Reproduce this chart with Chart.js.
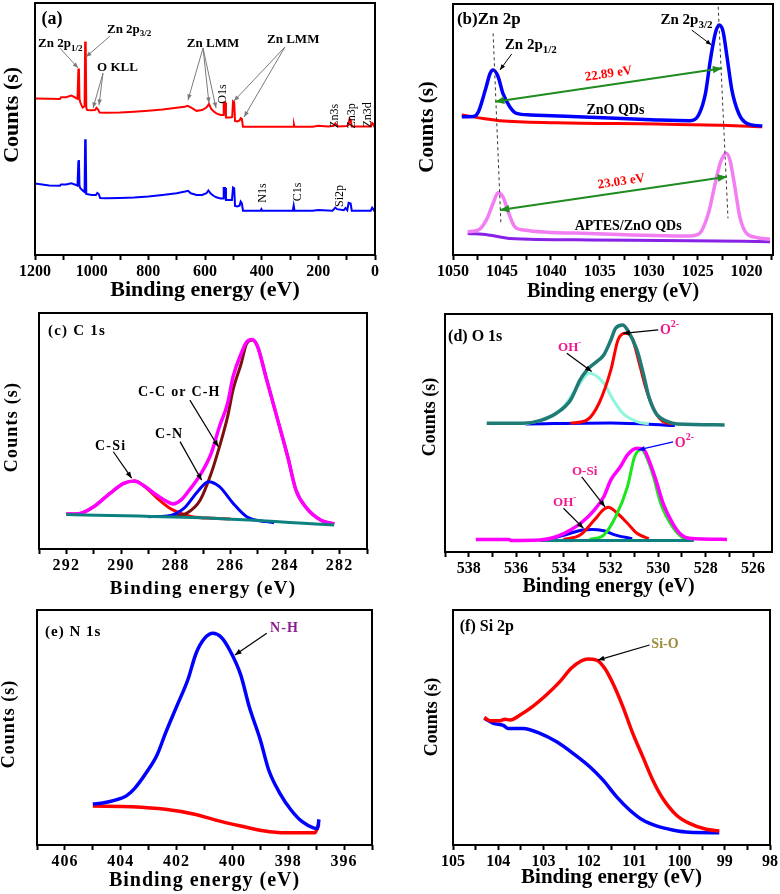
<!DOCTYPE html>
<html>
<head>
<meta charset="utf-8">
<title>XPS</title>
<script src="https://cdn.jsdelivr.net/npm/chart.js@4/dist/chart.umd.min.js"></script>
<style>
    html, body { margin: 0; padding: 0; background: #fff; }
    #figura { position: relative; width: 780px; height: 894px; overflow: hidden; }
    #figura canvas { position: absolute; }
</style>
</head>
<body>
<div id="figura">
    <canvas id="panel-a" width="390" height="301" style="left:0px;top:0px"></canvas>
    <canvas id="panel-b" width="390" height="302" style="left:390px;top:0px"></canvas>
    <canvas id="panel-c" width="390" height="294" style="left:0px;top:305px"></canvas>
    <canvas id="panel-d" width="390" height="292" style="left:390px;top:305px"></canvas>
    <canvas id="panel-e" width="390" height="291" style="left:0px;top:600px"></canvas>
    <canvas id="panel-f" width="390" height="288" style="left:390px;top:600px"></canvas>
</div>
<script>
// (a) Espectro completo
const surveyZnOEnergia = [1200, 1150, 1112, 1108, 1090, 1072, 1060, 1050, 1047, 1045, 1043, 1040, 1032, 1025, 1023, 1021, 1019, 1016, 1000, 988, 983, 978, 972, 950, 900, 850, 800, 750, 700, 672, 662, 650, 630, 610, 595, 586, 578, 570, 560, 545, 536, 534, 529, 526, 510, 504, 501, 497, 494, 486, 478, 474, 470, 466, 400, 300, 288, 286, 284, 220, 200, 165, 145, 140, 135, 130, 100, 94, 90, 86, 82, 40, 14, 10, 6, 3, 0];
const surveyZnOCuentas = [62.1, 62, 61.9, 62.6, 62.6, 63.3, 62.6, 62, 73.5, 74, 62, 60.5, 58.5, 59, 84.7, 83, 58.5, 57.5, 57.4, 57.5, 58.4, 57.8, 56.5, 56.4, 56.5, 56.8, 57.2, 57.7, 58.4, 58.8, 59.2, 58.6, 57.2, 57.5, 58.5, 59.9, 58, 57, 56.2, 55.6, 55.6, 60.5, 60.5, 54.6, 54.6, 54.8, 61, 60.6, 53.2, 53, 53.4, 54.3, 54, 50.9, 50.9, 50.9, 50.9, 51.8, 50.9, 50.9, 51.3, 51, 51.3, 52.2, 51.5, 51, 51.2, 51.5, 54, 53.6, 51, 51, 51, 52.4, 52, 51, 51];
const surveyAptesEnergia = [1200, 1150, 1112, 1108, 1090, 1072, 1060, 1050, 1047, 1045, 1043, 1040, 1030, 1025, 1023, 1021, 1019, 1000, 985, 980, 975, 970, 950, 900, 850, 800, 750, 700, 670, 660, 650, 630, 610, 595, 588, 580, 570, 560, 545, 536, 534, 529, 526, 505, 501, 497, 494, 486, 478, 474, 470, 466, 404, 401, 398, 290, 287, 284, 220, 200, 150, 140, 134, 110, 104, 98, 93, 86, 82, 15, 10, 6, 3, 0];
const surveyAptesCuentas = [28.4, 27.6, 27.5, 28, 28, 28.5, 28, 27.5, 37, 37.7, 27.5, 26.5, 25.4, 25, 45.9, 44, 24.2, 23.8, 23.8, 24.6, 24.2, 22.6, 22.5, 22.6, 22.8, 23.2, 23.8, 24.5, 25.2, 25.5, 24.5, 23.8, 23.8, 24.5, 25.6, 24.4, 23.5, 22.9, 22.4, 22.4, 26.6, 26.6, 21.8, 21.8, 26.8, 26.5, 19.5, 19.3, 19.6, 21.2, 20.6, 17.6, 17.6, 18.2, 17.6, 17.6, 19.6, 17.6, 17.6, 17.9, 17.6, 18.8, 18.2, 17.8, 18.6, 17.8, 20.7, 20.4, 17.6, 17.6, 18.8, 18.2, 17.6, 17.6];

// (b) Zn 2p
const zn2pZnOEnergia = [1049.1, 1047.9, 1047.4, 1046.7, 1046.2, 1045.9, 1045.4, 1044.9, 1044.2, 1043.5, 1042.1, 1036, 1029.2, 1025.8, 1024.9, 1024.2, 1023.7, 1023.2, 1022.8, 1022.4, 1022.0, 1021.5, 1020.8, 1020.0, 1018.4];
const zn2pZnOCuentas = [55.1, 55.2, 57.1, 65.7, 72.4, 73.7, 71.1, 64.4, 59.1, 56.4, 55.8, 54.9, 53.8, 53.5, 55.8, 64.4, 77.7, 88.3, 91.6, 89, 79, 65.7, 56.4, 52.5, 51.4];
const zn2pZnOFondoEnergia = [1049.1, 1046.9, 1045.2, 1039.4, 1029.2, 1022.4, 1018.4];
const zn2pZnOFondo = [55.8, 54.4, 53.5, 52.7, 52.2, 51.7, 51.1];
const zn2pAptesEnergia = [1048.5, 1047.4, 1046.6, 1045.9, 1045.4, 1044.9, 1044.3, 1043.7, 1042.8, 1036, 1025.8, 1024.8, 1023.9, 1023.2, 1022.7, 1022.1, 1021.7, 1021.2, 1020.7, 1020.0, 1019.0, 1017.6];
const zn2pAptesCuentas = [9.3, 10, 13.9, 20.6, 24.8, 23.2, 16.6, 11.3, 10, 8.6, 7.6, 8.6, 16.6, 28.6, 36.5, 40.5, 37.8, 27.2, 15.3, 8.6, 7, 6.3];
const zn2pAptesFondoEnergia = [1048.5, 1046.4, 1044.2, 1036, 1025.8, 1017.6];
const zn2pAptesFondo = [8.6, 8, 6.6, 6, 5.7, 5.3];

// (c) C 1s
const c1sEnergia = [292.0, 291.5, 291.0, 290.4, 289.9, 289.5, 289.2, 288.7, 288.3, 288.1, 287.8, 287.5, 287.1, 286.7, 286.4, 286.1, 285.9, 285.6, 285.4, 285.2, 285.0, 284.7, 284.3, 283.9, 283.6, 283.2, 282.7, 282.2];
const c1sCuentas = [14.8, 15.1, 17.9, 23.6, 27.8, 28.8, 27.1, 22.9, 20, 19.1, 20.8, 25, 31.4, 40.5, 51.8, 61.7, 73, 82.9, 87.8, 88.8, 85.7, 73, 56.1, 39.1, 25, 17.2, 12.3, 10.6];
const cSiEnergia = [292.0, 291.5, 291.0, 290.4, 289.9, 289.5, 289.2, 288.7, 288.2, 287.8, 287.4, 286.6, 286.0];
const cSiCuentas = [14.8, 15.1, 17.9, 23.6, 27.8, 28.8, 27.1, 21.8, 17.2, 15.1, 13.7, 13, 12.7];
const cnEnergia = [289.0, 288.3, 287.7, 287.2, 286.8, 286.4, 285.9, 285.4, 284.7, 284.4];
const cnCuentas = [13.7, 14, 17.2, 24.3, 28.5, 26.4, 19.4, 13.7, 11.6, 11.2];
const ccEnergia = [288.3, 287.9, 287.6, 287.1, 286.7, 286.4, 286.1, 285.9, 285.6, 285.4, 285.2, 285.0, 284.7, 284.3, 283.9, 283.6, 283.2, 282.7, 282.2];
const ccCuentas = [13.8, 14.2, 15.1, 20.8, 32.1, 43.3, 56.1, 67.4, 78.7, 87.2, 88.6, 85.7, 73, 56.1, 39.1, 25, 17.2, 12.3, 10.6];
const c1sFondoEnergia = [292.0, 287.1, 282.2];
const c1sFondo = [14.6, 13.2, 10.2];

// (d) O 1s
const o1sZnOEnergia = [537.24, 535.7, 535.0, 534.3, 533.7, 533.3, 533.0, 532.6, 532.3, 532.0, 531.8, 531.5, 531.3, 530.9, 530.6, 530.4, 530.1, 529.6, 529.2, 527.2];
const o1sZnOCuentas = [54.1, 54.1, 55.2, 58.3, 63.9, 72.3, 76.5, 80, 82.8, 89.1, 94, 95.4, 93.3, 84.9, 73.7, 65.3, 58.3, 54.8, 53.8, 53.4];
const o2ZnOEnergia = [533.7, 533.0, 532.5, 532.0, 531.7, 531.4, 531.1, 530.8, 530.5, 530.1, 529.8, 529.4];
const o2ZnOCuentas = [54.1, 55.5, 62.5, 76.5, 89.1, 91.9, 89.8, 79.3, 68.1, 58.3, 54.8, 53.8];
const ohZnOEnergia = [535.6, 534.7, 534.0, 533.4, 532.9, 532.3, 531.9, 531.5, 530.9, 530.4];
const ohZnOCuentas = [53.8, 56.2, 61, 69.5, 75.1, 70.9, 63.9, 58.3, 54.8, 53.8];
const o1sZnOFondoEnergia = [535.6, 532.0, 529.3];
const o1sZnOFondo = [53.8, 54.2, 53.1];
const o1sAptesEnergia = [537.7, 536.3, 536.2, 535.0, 534.3, 533.7, 533.2, 532.7, 532.3, 532.0, 531.6, 531.3, 530.9, 530.6, 530.4, 530.1, 529.8, 529.4, 529.1, 528.7, 527.1];
const o1sAptesCuentas = [5.3, 5.3, 4.8, 5, 6.4, 9.2, 12.7, 17.6, 23.2, 30.3, 35.8, 40.8, 43.6, 42.9, 38.7, 30.3, 20.5, 12.1, 7.9, 5.8, 5.3];
const o2AptesEnergia = [532.9, 532.3, 531.8, 531.3, 531.0, 530.7, 530.5, 530.2, 529.9, 529.4, 529.0, 528.7];
const o2AptesCuentas = [5.3, 7.1, 14.8, 27.4, 40, 43.1, 40, 31.6, 20.5, 10.6, 6.2, 5.3];
const oSiEnergia = [534.0, 533.3, 532.7, 532.3, 532.1, 531.8, 531.3, 530.9, 530.4];
const oSiCuentas = [5.3, 7.1, 13.4, 17.9, 18.8, 16.9, 12.1, 7.9, 5.6];
const ohAptesEnergia = [534.6, 533.7, 533.2, 532.8, 532.3, 531.8, 531.1];
const ohAptesCuentas = [5.3, 7.9, 9.2, 9.5, 8.9, 7.1, 5.6];
const o1sAptesFondoEnergia = [535.0, 528.5];
const o1sAptesFondo = [4.8, 4.8];

// (e) N 1s
const n1sEnergia = [405.0, 404.6, 404.2, 403.8, 403.5, 403.1, 402.7, 402.4, 402.0, 401.6, 401.3, 401.0, 400.7, 400.4, 400.1, 399.7, 399.4, 399.0, 398.7, 398.3, 397.9, 397.5, 397.1, 396.95, 396.9];
const n1sCuentas = [17.4, 18, 19.1, 20.9, 24.1, 30.5, 38.3, 47.5, 58.9, 70.2, 81.6, 87.9, 90.1, 88.4, 83, 72.3, 58.9, 44.7, 31.9, 22, 14.9, 9.9, 7.3, 7.0, 10.9];
const n1sFondoEnergia = [405.0, 403.6, 402.4, 401.4, 400.6, 399.7, 398.9, 398.1, 397.05, 396.9];
const n1sFondo = [16.6, 16.3, 15.2, 13.2, 10.6, 8.1, 6.1, 5.2, 5.2, 8.9];

// (f) Si 2p
const si2pEnergia = [104.31, 104.19, 103.96, 103.85, 103.74, 103.52, 103.23, 102.94, 102.64, 102.39, 102.17, 102.02, 101.83, 101.65, 101.47, 101.25, 101.03, 100.81, 100.59, 100.37, 100.07, 99.78, 99.41, 99.12];
const si2pCuentas = [54.3, 52.9, 52.9, 53.5, 53.2, 55.3, 59.1, 63.8, 69.5, 75.2, 78.3, 79.1, 78.7, 75.2, 68.8, 58.9, 47.5, 37.6, 27.7, 19.9, 12.8, 9.2, 6.7, 6];
const si2pFondoEnergia = [104.31, 104.11, 103.89, 103.78, 103.45, 103.08, 102.72, 102.35, 101.98, 101.69, 101.39, 101.10, 100.81, 100.51, 100.15, 99.78, 99.12];
const si2pFondo = [53.9, 51.8, 50.9, 49.6, 49.6, 47.5, 44, 39, 33.3, 27.7, 20.6, 14.9, 10.6, 8.1, 6.4, 5.4, 5.2];

const SERIF = "'Liberation Serif', 'Times New Roman', serif";
const ROSA = "#f0188c";
const notas = {};

function dibujarTexto(ctx, t, X, Y) {
    const peso = t.weight || "bold";
    const partes = t.parts.map((p) => (typeof p === "string" ? { s: p } : { s: p[0], modo: p[1] }));
    const fuente = (p) => peso + " " + (p.modo ? Math.round(t.size * 0.72) : t.size) + "px " + SERIF;
    let total = 0;
    partes.forEach((p) => {
        ctx.font = fuente(p);
        p.w = ctx.measureText(p.s).width;
        total += p.w;
    });
    ctx.save();
    ctx.translate(X, Y);
    if (t.rot) ctx.rotate(t.rot * Math.PI / 180);
    let cx = t.align === "center" ? -total / 2 : 0;
    ctx.fillStyle = t.color || "#000";
    ctx.textAlign = "left";
    ctx.textBaseline = "middle";
    partes.forEach((p) => {
        ctx.font = fuente(p);
        const dy = p.modo === "sub" ? t.size * 0.32 : p.modo === "sup" ? -t.size * 0.38 : 0;
        ctx.fillText(p.s, cx, dy);
        cx += p.w;
    });
    ctx.restore();
}

function punta(ctx, x1, y1, x2, y2, s) {
    const ang = Math.atan2(y2 - y1, x2 - x1);
    ctx.beginPath();
    ctx.moveTo(x2, y2);
    ctx.lineTo(x2 - s * Math.cos(ang - 0.38), y2 - s * Math.sin(ang - 0.38));
    ctx.lineTo(x2 - s * Math.cos(ang + 0.38), y2 - s * Math.sin(ang + 0.38));
    ctx.closePath();
    ctx.fill();
}

const espaciadoPlugin = {
    id: "espaciado",
    beforeDraw(chart) {
        const nota = notas[chart.canvas.id];
        chart.ctx.letterSpacing = (nota && nota.spacing) || "0px";
    }
};

const marcoPlugin = {
    id: "marco",
    afterDatasetsDraw(chart) {
        const nota = notas[chart.canvas.id];
        if (!nota) return;
        const { ctx, chartArea: a } = chart;
        const px = (v) => chart.scales.x.getPixelForValue(v);
        const py = (v) => chart.scales.y.getPixelForValue(v);
        ctx.save();

        (nota.dashes || []).forEach((d) => {
            ctx.strokeStyle = "#333";
            ctx.lineWidth = 1;
            ctx.setLineDash([3, 3]);
            ctx.beginPath();
            ctx.moveTo(px(d[0]), py(d[1]));
            ctx.lineTo(px(d[2]), py(d[3]));
            ctx.stroke();
        });
        ctx.setLineDash([]);

        (nota.arrows || []).forEach((f) => {
            const x1 = px(f.p[0]), y1 = py(f.p[1]), x2 = px(f.p[2]), y2 = py(f.p[3]);
            ctx.strokeStyle = f.color || "#000";
            ctx.fillStyle = f.color || "#000";
            ctx.lineWidth = f.width || 1.2;
            ctx.beginPath();
            ctx.moveTo(x1, y1);
            ctx.lineTo(x2, y2);
            ctx.stroke();
            punta(ctx, x1, y1, x2, y2, f.head || 7);
            if (f.both) punta(ctx, x2, y2, x1, y1, f.head || 7);
        });

        (nota.texts || []).forEach((t) => dibujarTexto(ctx, t, px(t.x), py(t.y)));

        ctx.strokeStyle = "#000";
        ctx.lineWidth = 2;
        ctx.strokeRect(a.left, a.top, a.right - a.left, a.bottom - a.top);

        const yt = nota.yTitle;
        ctx.save();
        ctx.translate(a.left + yt.dx, py(yt.y));
        ctx.rotate(-Math.PI / 2);
        ctx.font = "bold " + yt.size + "px " + SERIF;
        ctx.fillStyle = "#000";
        ctx.textAlign = "center";
        ctx.textBaseline = "middle";
        ctx.fillText("Counts (s)", 0, 0);
        ctx.restore();

        ctx.restore();
    }
};

function serie(energia, cuentas, color, ancho, recta) {
    return {
        data: energia.map((e, i) => ({ x: e, y: cuentas[i] })),
        borderColor: color,
        borderWidth: ancho,
        pointRadius: 0,
        fill: false,
        tension: 0,
        cubicInterpolationMode: recta ? "default" : "monotone"
    };
}

function crearPanel(id, eje, series, nota) {
    notas[id] = nota;
    const multiplo = (v, m) => Math.abs(v / m - Math.round(v / m)) < 1e-6;
    // Chart.js pinta el dataset 0 encima: se invierte para que el último de la lista quede arriba
    return new Chart(document.getElementById(id), {
        type: "line",
        data: { datasets: series.slice().reverse() },
        options: {
            responsive: false,
            animation: false,
            devicePixelRatio: 1,
            layout: { padding: { left: eje.left, top: eje.top, right: eje.right, bottom: 0 } },
            plugins: { legend: { display: false }, tooltip: { enabled: false } },
            scales: {
                x: {
                    type: "linear",
                    reverse: true,
                    min: eje.min,
                    max: eje.max,
                    afterFit: (s) => { s.height = eje.alto; },
                    border: { display: false },
                    grid: { drawOnChartArea: false, tickLength: 5, tickColor: "#000", tickWidth: 2 },
                    ticks: {
                        stepSize: eje.paso,
                        includeBounds: false,
                        autoSkip: false,
                        maxRotation: 0,
                        padding: 2,
                        color: "#000",
                        font: { family: SERIF, size: eje.fuente, weight: "bold" },
                        callback: (v) => (multiplo(v, eje.etiqueta) ? String(v) : "")
                    },
                    title: {
                        display: true,
                        text: "Binding energy (eV)",
                        color: "#000",
                        padding: 0,
                        font: { family: SERIF, size: eje.titulo, weight: "bold", lineHeight: 1 }
                    }
                },
                y: { display: false, min: 0, max: 100 }
            }
        },
        plugins: [espaciadoPlugin, marcoPlugin]
    });
}

const GRIS = "#7a7a7a";

crearPanel("panel-a",
    { min: 0, max: 1200, paso: 100, etiqueta: 200, left: 35, top: 3, right: 15, alto: 46, fuente: 16, titulo: 22 },
    [
        serie(surveyZnOEnergia, surveyZnOCuentas, "#ff0000", 2, true),
        serie(surveyAptesEnergia, surveyAptesCuentas, "#0000ff", 2, true)
    ],
    {
        yTitle: { size: 22, dx: -23, y: 55.6 },
        texts: [
            { x: 1140, y: 93.7, parts: ["(a)"], size: 18, align: "center" },
            { x: 1189, y: 83.7, parts: ["Zn 2p", ["1/2", "sub"]], size: 13 },
            { x: 946, y: 89.3, parts: ["Zn 2p", ["3/2", "sub"]], size: 13 },
            { x: 981, y: 74.2, parts: ["O KLL"], size: 13 },
            { x: 664, y: 83.7, parts: ["Zn LMM"], size: 13 },
            { x: 381, y: 85.3, parts: ["Zn LMM"], size: 13 },
            { x: 537, y: 63.9, parts: ["O1s"], size: 12, weight: "normal", rot: -90, align: "center" },
            { x: 141, y: 55.2, parts: ["Zn3s"], size: 12, weight: "normal", rot: -90, align: "center" },
            { x: 81, y: 55.2, parts: ["Zn3p"], size: 12, weight: "normal", rot: -90, align: "center" },
            { x: 25, y: 55.6, parts: ["Zn3d"], size: 12, weight: "normal", rot: -90, align: "center" },
            { x: 395, y: 24.6, parts: ["N1s"], size: 12, weight: "normal", rot: -90, align: "center" },
            { x: 272, y: 25, parts: ["C1s"], size: 12, weight: "normal", rot: -90, align: "center" },
            { x: 124, y: 23.4, parts: ["Si2p"], size: 12, weight: "normal", rot: -90, align: "center" }
        ],
        arrows: [
            { p: [1112, 82.1, 1048, 74.2], color: GRIS, width: 1, head: 6 },
            { p: [935, 86.9, 1020, 78.6], color: GRIS, width: 1, head: 6 },
            { p: [960, 72.2, 995, 58.3], color: GRIS, width: 1, head: 6 },
            { p: [960, 72.2, 974, 59.5], color: GRIS, width: 1, head: 6 },
            { p: [607, 82.1, 660, 61.5], color: GRIS, width: 1, head: 6 },
            { p: [607, 82.1, 586, 60.3], color: GRIS, width: 1, head: 6 },
            { p: [607, 82.1, 561, 58.3], color: GRIS, width: 1, head: 6 },
            { p: [318, 82.5, 498, 61.1], color: GRIS, width: 1, head: 6 },
            { p: [318, 82.5, 462, 54.8], color: GRIS, width: 1, head: 6 }
        ]
    }
);

crearPanel("panel-b",
    { min: 1017.3, max: 1050, paso: 2.5, etiqueta: 5, left: 63, top: 4, right: 7, alto: 47, fuente: 16, titulo: 20 },
    [
        serie(zn2pZnOFondoEnergia, zn2pZnOFondo, "#ff0000", 3),
        serie(zn2pZnOEnergia, zn2pZnOCuentas, "#0000ff", 3.5),
        serie(zn2pAptesFondoEnergia, zn2pAptesFondo, "#8a22e6", 3),
        serie(zn2pAptesEnergia, zn2pAptesCuentas, "#f27ef2", 3.5)
    ],
    {
        yTitle: { size: 21, dx: -25, y: 51 },
        dashes: [[1045.9, 88.3, 1045.1, 12], [1022.9, 98.9, 1021.9, 14.6]],
        texts: [
            { x: 1049.6, y: 93.6, parts: ["(b)Zn 2p"], size: 17 },
            { x: 1044.7, y: 83.7, parts: ["Zn 2p", ["1/2", "sub"]], size: 15 },
            { x: 1028.8, y: 93.6, parts: ["Zn 2p", ["3/2", "sub"]], size: 15 },
            { x: 1034.1, y: 72.1, parts: ["22.89 eV"], size: 13, color: "#ff0000", rot: -8.4, align: "center" },
            { x: 1033.4, y: 57.8, parts: ["ZnO QDs"], size: 14, align: "center" },
            { x: 1032.8, y: 29.2, parts: ["23.03 eV"], size: 13, color: "#ff0000", rot: -8.4, align: "center" },
            { x: 1032.1, y: 11.3, parts: ["APTES/ZnO QDs"], size: 14, align: "center" }
        ],
        arrows: [
            { p: [1044.0, 80.1, 1045.2, 73.7], width: 1, head: 6 },
            { p: [1025.6, 89.6, 1023.6, 83.7], width: 1, head: 6 },
            { p: [1045.7, 61.1, 1022.5, 74.4], color: "#1e8c1e", width: 2, head: 10, both: true },
            { p: [1045.2, 17.9, 1022.0, 31.2], color: "#1e8c1e", width: 2, head: 10, both: true }
        ]
    }
);

crearPanel("panel-c",
    { min: 281, max: 293, paso: 1, etiqueta: 2, left: 39, top: 8, right: 23, alto: 50, fuente: 16, titulo: 19 },
    [
        serie(cSiEnergia, cSiCuentas, "#ff0000", 3),
        serie(ccEnergia, ccCuentas, "#7d0f0f", 3),
        serie(cnEnergia, cnCuentas, "#0000ff", 3),
        serie(c1sEnergia, c1sCuentas, "#ff00ff", 3.5),
        serie(c1sFondoEnergia, c1sFondo, "#0d8080", 3)
    ],
    {
        spacing: "1.2px",
        yTitle: { size: 18, dx: -26.5, y: 51.7 },
        texts: [
            { x: 292.67, y: 92.4, parts: ["(c) C 1s"], size: 15 },
            { x: 289.38, y: 66.5, parts: ["C-C or C-H"], size: 14 },
            { x: 288.76, y: 48.7, parts: ["C-N"], size: 14 },
            { x: 290.95, y: 43.6, parts: ["C-Si"], size: 14 }
        ],
        arrows: [
            { p: [287.48, 63.1, 286.44, 43.3] },
            { p: [287.84, 45.5, 287.05, 29.2] },
            { p: [290.28, 41.2, 289.61, 30] }
        ]
    }
);

crearPanel("panel-d",
    { min: 525.2, max: 539, paso: 1, etiqueta: 2, left: 55, top: 9, right: 8, alto: 45, fuente: 16, titulo: 20 },
    [
        serie(o1sZnOFondoEnergia, o1sZnOFondo, "#0000ff", 3),
        serie(ohZnOEnergia, ohZnOCuentas, "#8ff5dc", 3),
        serie(o2ZnOEnergia, o2ZnOCuentas, "#ff0000", 3),
        serie(o1sZnOEnergia, o1sZnOCuentas, "#1f7b76", 3.5),
        serie(ohAptesEnergia, ohAptesCuentas, "#0000ff", 3),
        serie(oSiEnergia, oSiCuentas, "#ff0000", 3),
        serie(o2AptesEnergia, o2AptesCuentas, "#1ee61e", 3),
        serie(o1sAptesFondoEnergia, o1sAptesFondo, "#0d8080", 3),
        serie(o1sAptesEnergia, o1sAptesCuentas, "#ff00ff", 3.5)
    ],
    {
        yTitle: { size: 18, dx: -15, y: 56.7 },
        texts: [
            { x: 538.87, y: 90.3, parts: ["(d) O 1s"], size: 16 },
            { x: 534.23, y: 85.7, parts: ["OH", ["-", "sup"]], size: 13, color: ROSA },
            { x: 529.93, y: 93.3, parts: ["O", ["2-", "sup"]], size: 14, color: ROSA },
            { x: 533.64, y: 33.6, parts: ["O-Si"], size: 13, color: ROSA },
            { x: 534.44, y: 20.6, parts: ["OH", ["-", "sup"]], size: 13, color: ROSA },
            { x: 529.3, y: 45.8, parts: ["O", ["2-", "sup"]], size: 14, color: ROSA }
        ],
        arrows: [
            { p: [533.86, 83.5, 532.81, 75.8] },
            { p: [530.0, 93.3, 531.48, 91.9] },
            { p: [533.23, 31.6, 532.25, 19] },
            { p: [534.0, 18.4, 533.16, 10] },
            { p: [529.37, 46.3, 530.84, 42.9], color: "#0000ff" }
        ]
    }
);

crearPanel("panel-e",
    { min: 395, max: 407, paso: 1, etiqueta: 2, left: 37, top: 10, right: 18, alto: 46, fuente: 16, titulo: 20 },
    [
        serie(n1sFondoEnergia, n1sFondo, "#ff0000", 3.5),
        serie(n1sEnergia, n1sCuentas, "#0000ff", 3.5)
    ],
    {
        spacing: "1px",
        yTitle: { size: 18, dx: -27.7, y: 51.5 },
        texts: [
            { x: 406.71, y: 90.6, parts: ["(e) N 1s"], size: 15 },
            { x: 398.65, y: 92.3, parts: ["N-H"], size: 14, color: "#8b1c8b" }
        ],
        arrows: [
            { p: [398.77, 90.1, 399.91, 80.9] }
        ]
    }
);

crearPanel("panel-f",
    { min: 98, max: 105, paso: 0.5, etiqueta: 1, left: 63, top: 10, right: 9, alto: 43, fuente: 16, titulo: 21 },
    [
        serie(si2pFondoEnergia, si2pFondo, "#0000ff", 3.5),
        serie(si2pEnergia, si2pCuentas, "#ff0000", 3.5)
    ],
    {
        yTitle: { size: 18, dx: -20.5, y: 54.5 },
        texts: [
            { x: 104.85, y: 92.8, parts: ["(f) Si 2p"], size: 16 },
            { x: 100.62, y: 85.5, parts: ["Si-O"], size: 14, color: "#9a8c3c" }
        ],
        arrows: [
            { p: [100.66, 85.1, 101.8, 78.7] }
        ]
    }
);
</script>
</body>
</html>
